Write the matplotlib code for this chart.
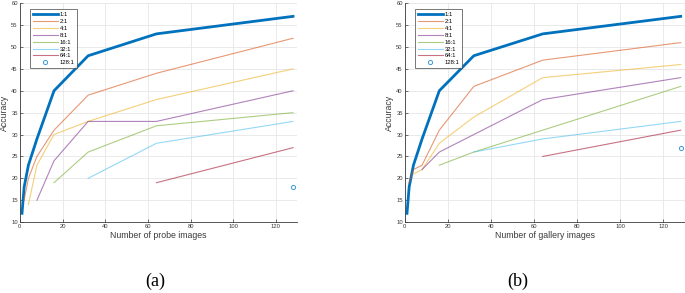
import matplotlib
matplotlib.use("Agg")
import matplotlib.pyplot as plt

plt.rcParams["font.family"] = ["Liberation Sans", "DejaVu Sans"]

# x positions (number of images)
X_ALL = [1, 2, 4, 8, 16, 32, 64, 128]
RATIOS = ["1:1", "2:1", "4:1", "8:1", "16:1", "32:1", "64:1", "128:1"]

# (a) probe images -- each series starts at the ratio value
probe_11 = [12, 18, 23, 29, 40, 48, 53, 57]
probe_21 = [15, 20, 25, 31, 39, 44, 52]
probe_41 = [14, 23, 30, 33, 38, 45]
probe_81 = [15, 24, 33, 33, 40]
probe_161 = [19, 26, 32, 35]
probe_321 = [20, 28, 33]
probe_641 = [19, 27]
probe_1281 = [18]

# (b) gallery images
gallery_11 = [12, 18, 23, 29, 40, 48, 53, 57]
gallery_21 = [19, 22, 23, 31, 41, 47, 51]
gallery_41 = [21, 22, 28, 34, 43, 46]
gallery_81 = [22, 26, 30, 38, 43]
gallery_161 = [23, 26, 31, 41]
gallery_321 = [26, 29, 33]
gallery_641 = [25, 31]
gallery_1281 = [27]

COLORS = ["#0072BD", "#D95319", "#EDB120", "#7E2F8E",
          "#77AC30", "#4DBEEE", "#A2142F", "#0072BD"]
TXT = "#3a3a3a"


def draw(ax, series, xlabel):
    for i, (lab, ys) in enumerate(zip(RATIOS, series)):
        xs = X_ALL[len(X_ALL) - len(ys):]
        if i == 0:
            ax.plot(xs, ys, color=COLORS[i], lw=2.0, label=lab)
        elif i == len(RATIOS) - 1:
            ax.plot(xs, ys, ls="none", marker="o", ms=3, mfc="none",
                    mec="#3c9ad8", mew=0.7, label=lab)
        else:
            ax.plot(xs, ys, color=COLORS[i], lw=0.8, alpha=0.6, label=lab)
    ax.set_xlim(0, 130)
    ax.set_ylim(10, 60)
    ax.set_xticks(range(0, 121, 20))
    ax.set_yticks(range(10, 61, 5))
    ax.grid(color="#e6e6e6", lw=0.6)
    ax.set_axisbelow(True)
    ax.tick_params(direction="in", length=2, labelsize=4.2, pad=1.5,
                   labelcolor=TXT, color=TXT, width=0.5)
    for s in ["top", "right"]:
        ax.spines[s].set_visible(False)
    for s in ["left", "bottom"]:
        ax.spines[s].set_color(TXT)
        ax.spines[s].set_linewidth(0.6)
    ax.set_xlabel(xlabel, fontsize=6.3, color=TXT, labelpad=1)
    ax.set_ylabel("Accuracy", fontsize=6.3, color=TXT, labelpad=1.5)
    leg = ax.legend(loc="upper left", fontsize=4.2, handlelength=4.3,
                    handletextpad=0.3, borderpad=0.5, labelspacing=0.3,
                    fancybox=False, bbox_to_anchor=(0.025, 0.985))
    leg.get_frame().set_edgecolor(TXT)
    leg.get_frame().set_linewidth(0.6)


fig = plt.figure(figsize=(6.85, 2.93), dpi=100)
ax1 = fig.add_axes([0.029, 0.242, 0.405, 0.747])
ax2 = fig.add_axes([0.591, 0.242, 0.409, 0.747])

draw(ax1, [probe_11, probe_21, probe_41, probe_81, probe_161,
           probe_321, probe_641, probe_1281], "Number of probe images")
draw(ax2, [gallery_11, gallery_21, gallery_41, gallery_81, gallery_161,
           gallery_321, gallery_641, gallery_1281], "Number of gallery images")

fig.text(0.226, 0.04, "(a)", fontsize=13, family="Liberation Serif",
         ha="center", va="center")
fig.text(0.756, 0.04, "(b)", fontsize=13, family="Liberation Serif",
         ha="center", va="center")

fig.savefig("out.png", dpi=100)
